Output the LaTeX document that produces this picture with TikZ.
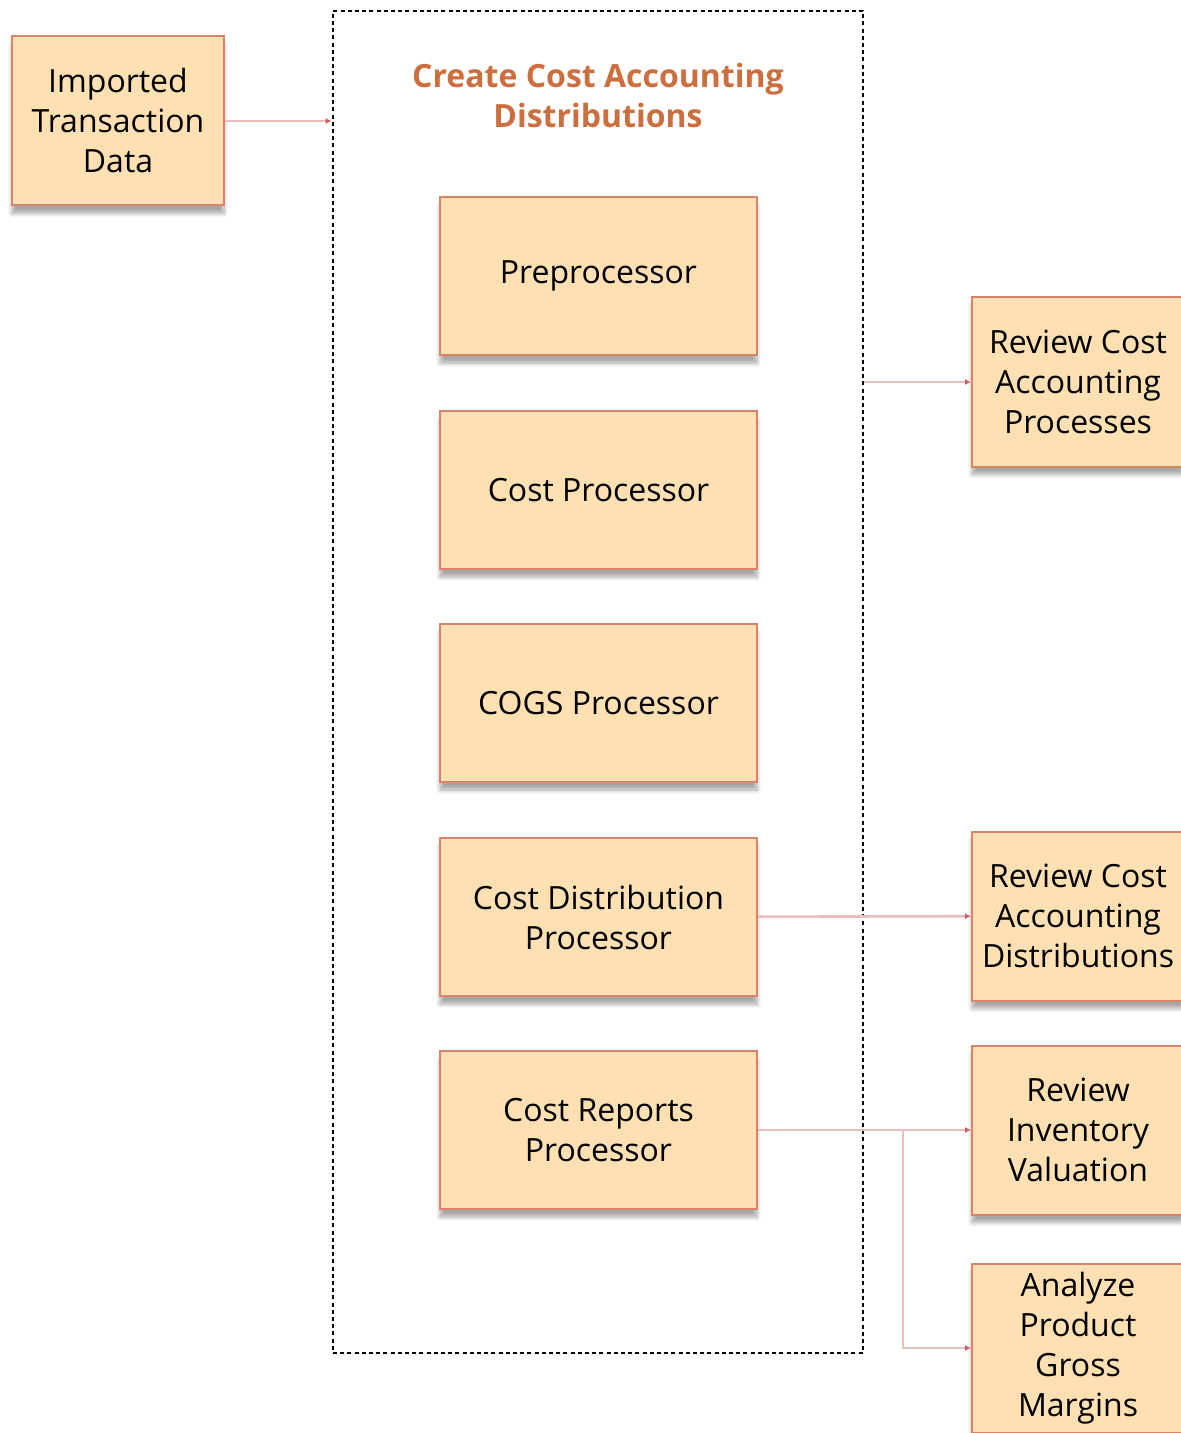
\documentclass[tikz,border=0pt]{standalone}
\usepackage{fontspec}
\setmainfont{Open Sans}
\usetikzlibrary{arrows.meta,shadows.blur}
\definecolor{boxfill}{HTML}{FFE0B2}
\definecolor{boxline}{HTML}{D98469}
\definecolor{linkline}{HTML}{ECBDBD}
\definecolor{linktip}{HTML}{D0605E}
\definecolor{titleorange}{HTML}{CC6E3D}
\tikzset{
  stage/.style={draw=boxline, fill=boxfill, line width=1pt, minimum width=158.5pt,
    minimum height=79pt, align=center, inner sep=2pt, font=\fontsize{16}{20}\selectfont,
    blur shadow={shadow xshift=0pt, shadow yshift=-4pt, shadow opacity=35, shadow blur steps=8}},
  side/.style={stage, minimum width=106pt, minimum height=84.5pt},
  group/.style={draw, line width=1.4pt, dash pattern=on 2pt off 1.6pt,
    minimum width=265pt, minimum height=671pt},
  link/.style={draw=linkline, line width=1.3pt, -{Latex[length=3pt,width=3pt,color=linktip]}}
}
\begin{document}
\begin{tikzpicture}[x=0.5pt, y=-0.5pt]
  \useasboundingbox (0,0) rectangle (1180,1433);
  \node[group] (grp) at (598,682) {};
  \node[text=titleorange, align=center, font=\fontsize{16}{20}\selectfont\bfseries]
    (title) at (598,96) {Create Cost Accounting\\Distributions};
  \draw
    (118,121) node[side] (imp) {Imported\\Transaction\\Data}
    (598.5,276) node[stage] (pre) {Preprocessor}
    (598.5,490) node[stage] (cost) {Cost Processor}
    (598.5,703) node[stage] (cogs) {COGS Processor}
    (598.5,917) node[stage] (dist) {Cost Distribution\\Processor}
    (598.5,1130) node[stage] (rep) {Cost Reports\\Processor}
    (1078,382) node[side] (rcap) {Review Cost\\Accounting\\Processes}
    (1078,916) node[side] (rcad) {Review Cost\\Accounting\\Distributions}
    (1078,1130) node[side] (riv) {Review\\Inventory\\Valuation}
    (1078,1348) node[side] (apgm) {Analyze\\Product\\Gross\\Margins};
  \coordinate (split) at (903,1130);
  \begin{scope}[link]
    \draw (imp) -- (imp -| grp.west);
    \draw (grp.east |- rcap) -- (rcap);
    \draw (dist) -- (rcad);
    \draw (rep) -- (riv);
    \draw (split) |- (apgm);
  \end{scope}
\end{tikzpicture}
\end{document}
